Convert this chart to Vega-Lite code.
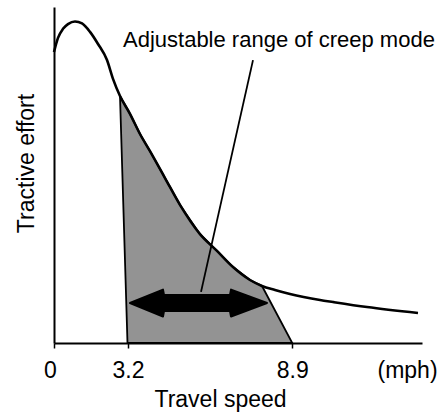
{
  "$schema": "https://vega.github.io/schema/vega-lite/v6.json",
  "width": 368,
  "height": 336,
  "autosize": {"type": "none"},
  "padding": {"left": 54, "top": 7, "right": 21, "bottom": 71},
  "background": "white",
  "config": {
    "view": {"stroke": null},
    "font": "Liberation Sans"
  },
  "datasets": {
    "curve": [
      {"speed": 0, "effort": 86.6},
      {"speed": 0.173, "effort": 90.8},
      {"speed": 0.389, "effort": 93.5},
      {"speed": 0.605, "effort": 94.9},
      {"speed": 0.908, "effort": 95.7},
      {"speed": 1.211, "effort": 95.1},
      {"speed": 1.557, "effort": 92.6},
      {"speed": 1.903, "effort": 89.0},
      {"speed": 2.292, "effort": 84.2},
      {"speed": 2.551, "effort": 78.6},
      {"speed": 2.854, "effort": 73.5},
      {"speed": 3.269, "effort": 68.2},
      {"speed": 3.616, "effort": 62.2},
      {"speed": 3.963, "effort": 57.1},
      {"speed": 4.484, "effort": 49.1},
      {"speed": 5.004, "effort": 41.1},
      {"speed": 5.698, "effort": 32.4},
      {"speed": 6.288, "effort": 27.4},
      {"speed": 6.843, "effort": 22.6},
      {"speed": 7.433, "effort": 18.75},
      {"speed": 7.849, "effort": 16.96},
      {"speed": 8.3, "effort": 15.77},
      {"speed": 8.82, "effort": 14.58},
      {"speed": 9.861, "effort": 12.8},
      {"speed": 10.312, "effort": 12.2},
      {"speed": 11.492, "effort": 10.71},
      {"speed": 13.261, "effort": 8.93}
    ],
    "shade": [
      {"speed": 2.854, "top": 73.5, "bottom": 73.5},
      {"speed": 3.178, "top": 69.6, "bottom": 0},
      {"speed": 3.269, "top": 68.2, "bottom": 0},
      {"speed": 3.616, "top": 62.2, "bottom": 0},
      {"speed": 3.963, "top": 57.1, "bottom": 0},
      {"speed": 4.484, "top": 49.1, "bottom": 0},
      {"speed": 5.004, "top": 41.1, "bottom": 0},
      {"speed": 5.698, "top": 32.4, "bottom": 0},
      {"speed": 6.288, "top": 27.4, "bottom": 0},
      {"speed": 6.843, "top": 22.6, "bottom": 0},
      {"speed": 7.433, "top": 18.75, "bottom": 0},
      {"speed": 7.849, "top": 16.96, "bottom": 0},
      {"speed": 8.9, "top": 0, "bottom": 0}
    ],
    "arrow": [
      {"speed": 3.269, "top": 11.9, "bottom": 11.9},
      {"speed": 4.414, "top": 15.9, "bottom": 7.9},
      {"speed": 4.449, "top": 14.3, "bottom": 9.5},
      {"speed": 6.739, "top": 14.3, "bottom": 9.5},
      {"speed": 6.774, "top": 15.9, "bottom": 7.9},
      {"speed": 8.023, "top": 11.9, "bottom": 11.9}
    ],
    "pointer": [
      {"speed": 7.537, "effort": 84.2, "speed2": 5.733, "effort2": 15.2}
    ],
    "label": [
      {"speed": 2.984, "effort": 88.1, "text": "Adjustable range of creep mode"}
    ]
  },
  "encoding": {
    "x": {
      "field": "speed",
      "type": "quantitative",
      "scale": {"domain": [0, 3.2, 13.4], "range": [0, 74, 368], "nice": false, "zero": false},
      "axis": {
        "title": "Travel speed",
        "values": [0, 3.2, 8.9, 12.88],
        "labelExpr": "datum.value > 12 ? '(mph)' : datum.value == 0 ? '0' : format(datum.value, '.1f')",
        "labelFlush": false,
        "labelOverlap": false,
        "labelFontSize": 23,
        "labelColor": "black",
        "labelBaseline": "alphabetic",
        "labelPadding": 29,
        "labelOffset": {"condition": {"test": "datum.value == 0", "value": -4}, "value": 0},
        "tickSize": 5,
        "tickColor": "black",
        "tickWidth": 1.5,
        "tickOpacity": {"condition": {"test": "datum.value > 12", "value": 0}, "value": 1},
        "domainColor": "black",
        "domainWidth": 2,
        "grid": false,
        "titleFontSize": 23,
        "titleFontWeight": "normal",
        "titleColor": "black",
        "titleX": 166,
        "titleY": 63,
        "titleBaseline": "alphabetic",
        "titleAlign": "center"
      }
    },
    "y": {
      "field": "effort",
      "type": "quantitative",
      "scale": {"domain": [0, 100], "nice": false, "zero": true},
      "axis": {
        "title": "Tractive effort",
        "labels": false,
        "ticks": false,
        "grid": false,
        "domainColor": "black",
        "domainWidth": 2,
        "titleFontSize": 23,
        "titleFontWeight": "normal",
        "titleColor": "black",
        "titleX": -21,
        "titleY": 156,
        "titleAngle": 270,
        "titleBaseline": "alphabetic",
        "titleAlign": "center"
      }
    }
  },
  "layer": [
    {
      "data": {"name": "shade"},
      "mark": {"type": "area", "fill": "#939393", "stroke": "black", "strokeWidth": 1.8},
      "encoding": {
        "y": {"field": "top", "type": "quantitative"},
        "y2": {"field": "bottom"}
      }
    },
    {
      "data": {"name": "curve"},
      "mark": {"type": "line", "color": "black", "strokeWidth": 2.6, "interpolate": "monotone"},
      "encoding": {}
    },
    {
      "data": {"name": "pointer"},
      "mark": {"type": "rule", "color": "black", "strokeWidth": 1.8},
      "encoding": {
        "x2": {"field": "speed2"},
        "y2": {"field": "effort2"}
      }
    },
    {
      "data": {"name": "arrow"},
      "mark": {"type": "area", "color": "black", "stroke": "black", "strokeWidth": 2, "strokeJoin": "round"},
      "encoding": {
        "y": {"field": "top", "type": "quantitative"},
        "y2": {"field": "bottom"}
      }
    },
    {
      "data": {"name": "label"},
      "mark": {"type": "text", "align": "left", "baseline": "alphabetic", "fontSize": 22, "color": "black"},
      "encoding": {
        "text": {"field": "text"}
      }
    }
  ]
}
